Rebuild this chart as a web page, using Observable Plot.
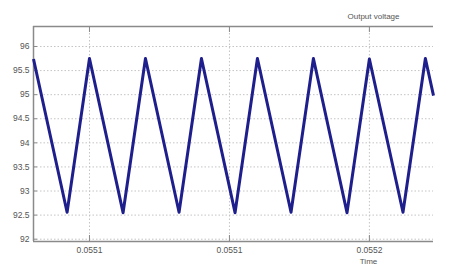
<!DOCTYPE html>
<html>
<head>
<meta charset="utf-8">
<script src="https://cdn.jsdelivr.net/npm/d3@7"></script>
<script src="https://cdn.jsdelivr.net/npm/@observablehq/plot@0.6"></script>
<style>
  html, body { margin: 0; padding: 0; background: #ffffff; }
  #chart svg { display: block; }
</style>
</head>
<body>
<div id="chart"></div>
<script>
// Vertices of the sawtooth output voltage (time in s, voltage in V)
const time = [0.05503, 0.055042, 0.05505, 0.055062, 0.05507, 0.055082, 0.05509, 0.055102,
              0.05511, 0.055122, 0.05513, 0.055142, 0.05515, 0.055162, 0.05517, 0.0551729];
const voltage = [95.74, 92.56, 95.75, 92.55, 95.75, 92.56, 95.75, 92.55,
                 95.75, 92.56, 95.75, 92.55, 95.74, 92.56, 95.75, 94.98];

const xTickValues = [0.05505, 0.05510, 0.05515];
const xTickLabels = ["0.0551", "0.0551", "0.0552"];
const yTickValues = [92, 92.5, 93, 93.5, 94, 94.5, 95, 95.5, 96];
const yTickLabels = ["92", "92.5", "93", "93.5", "94", "94.5", "95", "95.5", "96"];

const xDomain = [0.05503, 0.0551729];
const yDomain = [91.952, 96.415];

const titleText = "Output voltage";
const xLabelText = "Time";

const data = time.map((t, i) => ({t, v: voltage[i]}));

const W = 457, H = 271;
const mL = 33, mR = 24, mT = 26, mB = 30;
const frameW = W - mL - mR, frameH = H - mT - mB;

const axisColor = "#8a8a8a";
const gridColor = "#c4c4c4";
const textColor = "#555555";

const chart = Plot.plot({
  width: W,
  height: H,
  marginLeft: mL,
  marginRight: mR,
  marginTop: mT,
  marginBottom: mB,
  style: {fontFamily: "'Liberation Sans', Arial, sans-serif", background: "#ffffff"},
  x: {domain: xDomain},
  y: {domain: yDomain},
  marks: [
    Plot.gridX(xTickValues, {stroke: gridColor, strokeOpacity: 1, strokeDasharray: "1.5,2"}),
    Plot.gridY(yTickValues, {stroke: gridColor, strokeOpacity: 1, strokeDasharray: "1.5,2"}),
    // axis lines (left, bottom, top)
    Plot.ruleX([xDomain[0]], {stroke: axisColor, strokeWidth: 1.5}),
    Plot.ruleY([yDomain[0]], {stroke: axisColor, strokeWidth: 1.5}),
    Plot.ruleY([yDomain[1]], {stroke: axisColor, strokeWidth: 1.5}),
    // inward ticks
    Plot.tickY(yTickValues, {y: d => d, stroke: axisColor, insetRight: frameW - 4}),
    Plot.tickX(xTickValues, {x: d => d, stroke: axisColor, insetTop: frameH - 6}),
    Plot.tickX(xTickValues, {x: d => d, stroke: axisColor, insetBottom: frameH - 6}),
    Plot.axisY(yTickValues, {
      tickSize: 0, tickPadding: 4, label: null, fontSize: 8.5, fill: textColor,
      tickFormat: (d, i) => yTickLabels[i]
    }),
    Plot.axisX(xTickValues, {
      tickSize: 0, tickPadding: 5, label: null, fontSize: 8.5, fill: textColor,
      tickFormat: (d, i) => xTickLabels[i]
    }),
    Plot.line(data, {x: "t", y: "v", stroke: "#1e1e8c", strokeWidth: 3, strokeLinejoin: "round", strokeLinecap: "butt"}),
    Plot.text([titleText], {frameAnchor: "top-right", dx: -60, dy: -10, text: d => d,
      fontSize: 8, fill: textColor, textAnchor: "middle", lineAnchor: "middle"}),
    Plot.text([xLabelText], {frameAnchor: "bottom-right", dx: -65, dy: 20, text: d => d,
      fontSize: 8, fill: textColor, textAnchor: "middle", lineAnchor: "middle"})
  ]
});
document.getElementById("chart").appendChild(chart);
</script>
</body>
</html>
